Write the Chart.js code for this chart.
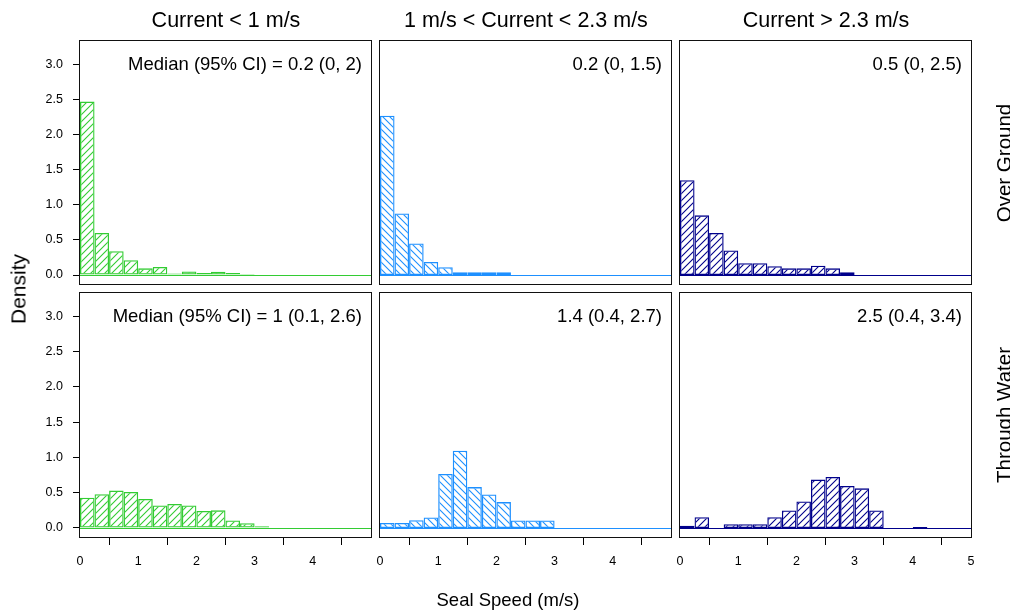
<!DOCTYPE html>
<html>
<head>
<meta charset="utf-8">
<script src="https://cdn.jsdelivr.net/npm/chart.js@4.4.1/dist/chart.umd.min.js"></script>
<style>
  html, body { margin: 0; padding: 0; background: #fff; }
  #wrap { position: relative; width: 1010px; height: 612px; overflow: hidden; font-family: "Liberation Sans", Arial, sans-serif; color: #000; }
  #wrap canvas { position: absolute; left: 0; top: 0; }
  .txt { position: absolute; white-space: nowrap; line-height: 1; }
  .mid { transform: translate(-50%, -50%); }
  .rot { transform: translate(-50%, -50%) rotate(-90deg); }
  .note { transform: translateY(-50%); font-size: 18.5px; }
  .head { font-size: 21.5px; }
</style>
</head>
<body>
<div id="wrap">
  <canvas id="c10" width="1010" height="612"></canvas>
  <canvas id="c11" width="1010" height="612"></canvas>
  <canvas id="c12" width="1010" height="612"></canvas>
  <canvas id="c00" width="1010" height="612"></canvas>
  <canvas id="c01" width="1010" height="612"></canvas>
  <canvas id="c02" width="1010" height="612"></canvas>

  <div class="txt mid head" style="left:226px; top:21px">Current &lt; 1 m/s</div>
  <div class="txt mid head" style="left:526px; top:21px">1 m/s &lt; Current &lt; 2.3 m/s</div>
  <div class="txt mid head" style="left:826px; top:21px">Current &gt; 2.3 m/s</div>

  <div class="txt note" style="right:648px; top:64px">Median (95% CI) = 0.2 (0, 2)</div>
  <div class="txt note" style="right:348px; top:64px">0.2 (0, 1.5)</div>
  <div class="txt note" style="right:48px; top:64px">0.5 (0, 2.5)</div>
  <div class="txt note" style="right:648px; top:316px">Median (95% CI) = 1 (0.1, 2.6)</div>
  <div class="txt note" style="right:348px; top:316px">1.4 (0.4, 2.7)</div>
  <div class="txt note" style="right:48px; top:316px">2.5 (0.4, 3.4)</div>

  <div class="txt rot" style="left:1004px; top:163px; font-size:20.5px">Over Ground</div>
  <div class="txt rot" style="left:1004px; top:415px; font-size:20.5px">Through Water</div>
  <div class="txt rot" style="left:18px; top:289px; font-size:21px">Density</div>
  <div class="txt mid" style="left:508px; top:600px; font-size:18.5px">Seal Speed (m/s)</div>
</div>
<script>
// histogram bins (0.25 m/s wide), centres
const binMids = [0.125, 0.375, 0.625, 0.875, 1.125, 1.375, 1.625, 1.875, 2.125, 2.375,
                 2.625, 2.875, 3.125, 3.375, 3.625, 3.875, 4.125, 4.375, 4.625, 4.875];
const xTicksInner = [0, 1, 2, 3, 4];
const xTicksLast = [0, 1, 2, 3, 4, 5];
const yTicks = [0, 0.5, 1, 1.5, 2, 2.5, 3];

// density per bin
const groundSlow = [2.47, 0.60, 0.34, 0.21, 0.095, 0.114, 0.02, 0.05, 0.03, 0.048, 0.03, 0.015, 0, 0, 0, 0, 0, 0, 0, 0];
const groundMid  = [2.27, 0.876, 0.45, 0.186, 0.11, 0.038, 0.038, 0.038, 0.038, 0, 0, 0, 0, 0, 0, 0, 0, 0, 0, 0];
const groundFast = [1.35, 0.85, 0.60, 0.35, 0.167, 0.167, 0.124, 0.095, 0.095, 0.133, 0.095, 0.038, 0, 0, 0, 0, 0, 0, 0, 0];
const waterSlow  = [0.43, 0.48, 0.53, 0.51, 0.41, 0.32, 0.34, 0.32, 0.24, 0.25, 0.105, 0.067, 0.024, 0, 0, 0, 0, 0, 0, 0];
const waterMid   = [0.071, 0.071, 0.11, 0.148, 0.767, 1.095, 0.58, 0.476, 0.367, 0.105, 0.105, 0.105, 0, 0, 0, 0, 0, 0, 0, 0];
const waterFast  = [0.033, 0.152, 0, 0.052, 0.052, 0.052, 0.152, 0.248, 0.376, 0.686, 0.724, 0.595, 0.562, 0.248, 0, 0, 0.014, 0, 0, 0];

const W = 1010, H = 612;
const colLeft = [80, 380, 680], colRight = [371, 671, 971];
const rowTop = [41, 293], rowBottom = [284, 537];
const yMin = -0.128, yMax = 3.333;
const tickFont = { family: '"Liberation Sans", Arial, sans-serif', size: 12.5 };

// frame round the plot area plus the zero line in the series colour
const boxPlugin = {
  id: 'panelBox',
  afterDraw(chart) {
    const a = chart.chartArea, ctx = chart.ctx;
    const y0 = Math.round(chart.scales.y.getPixelForValue(0));
    ctx.save();
    ctx.fillStyle = chart.data.datasets[0].borderColor;
    ctx.fillRect(a.left, y0, a.right - a.left, 1);
    ctx.strokeStyle = '#111';
    ctx.lineWidth = 1;
    ctx.strokeRect(Math.round(a.left) - 0.5, Math.round(a.top) - 0.5, Math.round(a.right - a.left) + 1, Math.round(a.bottom - a.top) + 1);
    ctx.restore();
  }
};

function hatch(ctx, color, dir) {
  const s = 7, c = document.createElement('canvas');
  c.width = s; c.height = s;
  const g = c.getContext('2d');
  g.strokeStyle = color;
  g.lineWidth = 1.1;
  g.beginPath();
  if (dir === '/') {
    g.moveTo(-1, s + 1); g.lineTo(s + 1, -1);
    g.moveTo(-1, 1); g.lineTo(1, -1);
    g.moveTo(s - 1, s + 1); g.lineTo(s + 1, s - 1);
  } else {
    g.moveTo(-1, -1); g.lineTo(s + 1, s + 1);
    g.moveTo(s - 1, -1); g.lineTo(s + 1, 1);
    g.moveTo(-1, s - 1); g.lineTo(1, s + 1);
  }
  g.stroke();
  return ctx.createPattern(c, 'repeat');
}

function makePanel(id, values, color, dir, row, col) {
  const el = document.getElementById(id);
  const showY = col === 0, showX = row === 1;
  const xt = col === 2 ? xTicksLast : xTicksInner;
  new Chart(el, {
    type: 'bar',
    data: {
      datasets: [{
        data: values.map((v, i) => ({ x: binMids[i], y: v })),
        backgroundColor: hatch(el.getContext('2d'), color, dir),
        borderColor: color,
        borderWidth: 1.3,
        borderSkipped: false,
        inflateAmount: 0,
        barPercentage: 1,
        categoryPercentage: 1
      }]
    },
    options: {
      responsive: false,
      animation: false,
      events: [],
      layout: { padding: {
        left: showY ? 0 : colLeft[col],
        right: W - colRight[col],
        top: rowTop[row],
        bottom: showX ? 0 : H - rowBottom[row]
      } },
      plugins: { legend: { display: false }, tooltip: { enabled: false } },
      scales: {
        x: {
          type: 'linear', min: 0, max: 5, offset: false,
          display: showX,
          afterBuildTicks: s => { s.ticks = xt.map(v => ({ value: v })); },
          afterFit: s => { if (showX) s.height = H - rowBottom[row]; },
          border: { display: false },
          grid: { drawOnChartArea: false, tickLength: 8, color: '#000' },
          ticks: { color: '#000', font: tickFont, padding: 9, maxRotation: 0, autoSkip: false, callback: v => String(v) }
        },
        y: {
          type: 'linear', min: yMin, max: yMax,
          display: showY,
          afterBuildTicks: s => { s.ticks = yTicks.map(v => ({ value: v })); },
          afterFit: s => { if (showY) s.width = colLeft[0]; },
          border: { display: false },
          grid: { drawOnChartArea: false, color: '#000', tickLength: 7 },
          ticks: { color: '#000', font: tickFont, padding: 10, autoSkip: false, callback: v => v.toFixed(1) }
        }
      }
    },
    plugins: [boxPlugin]
  });
}

const green = '#33cc33', blue = '#1e90ff', navy = '#00008b';
makePanel('c10', waterSlow, green, '/', 1, 0);
makePanel('c11', waterMid, blue, '\\', 1, 1);
makePanel('c12', waterFast, navy, '/', 1, 2);
makePanel('c00', groundSlow, green, '/', 0, 0);
makePanel('c01', groundMid, blue, '\\', 0, 1);
makePanel('c02', groundFast, navy, '/', 0, 2);
</script>
</body>
</html>
